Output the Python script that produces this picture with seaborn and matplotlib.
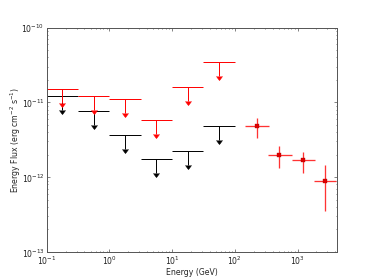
import numpy as np
import matplotlib
matplotlib.use("Agg")
import matplotlib.pyplot as plt
import seaborn as sns

# ------------------------------------------------------------------
# upper limits: half-decade energy bins (GeV)
# ------------------------------------------------------------------
ul_lo = [0.1, 0.316, 1.0, 3.16, 10.0, 31.6]
ul_hi = [0.316, 1.0, 3.16, 10.0, 31.6, 100.0]
ul_black = [1.23e-11, 7.7e-12, 3.7e-12, 1.74e-12, 2.23e-12, 4.82e-12]
ul_red = [1.52e-11, 1.2e-11, 1.11e-11, 5.74e-12, 1.62e-11, 3.51e-11]

# detected points (GeV, erg cm-2 s-1)
e_pt = [223, 515, 1216, 2774]
e_lo = [147, 340, 802, 1823]
e_hi = [352, 822, 1892, 4055]
f_pt = [4.76e-12, 1.97e-12, 1.67e-12, 9.0e-13]
f_lo = [3.29e-12, 1.32e-12, 1.15e-12, 3.57e-13]
f_hi = [6.24e-12, 2.63e-12, 2.16e-12, 1.46e-12]

arrow_frac = 0.35  # length of the upper-limit arrows, fraction of the value

sns.set_style("ticks")
plt.rcParams['font.family'] = ['DejaVu Sans']
plt.rcParams['font.size'] = 12

fig = plt.figure(figsize=(8, 6), dpi=46.75)
ax = fig.add_axes([0.125, 0.1, 0.775, 0.8])

ul_lo_a, ul_hi_a = np.array(ul_lo), np.array(ul_hi)
ul_x = np.sqrt(ul_lo_a * ul_hi_a)
ul_xerr = [ul_x - ul_lo_a, ul_hi_a - ul_x]

for vals, col in [(ul_black, 'k'), (ul_red, 'r')]:
    v = np.array(vals)
    cont = ax.errorbar(ul_x, v, xerr=ul_xerr, yerr=arrow_frac * v, uplims=True,
                       fmt='none', ecolor=col, elinewidth=1.5, capsize=0)
    # arrow heads
    for cap in cont[1]:
        cap.set_color(col)
        cap.set_markerfacecolor(col)
        cap.set_markeredgecolor(col)
        cap.set_markersize(9)

e = np.array(e_pt)
f = np.array(f_pt)
eb = ax.errorbar(e, f, xerr=[e - np.array(e_lo), np.array(e_hi) - e],
                 yerr=[f - np.array(f_lo), np.array(f_hi) - f],
                 fmt='none', ecolor='red', elinewidth=2, capsize=0)
for lc in eb[2]:
    lc.set_color('#ff3333')
sns.scatterplot(x=e_pt, y=f_pt, ax=ax, color='#e00000', marker='s', s=30,
                edgecolor='#a00000', linewidth=0.5, zorder=5)

ax.set_xscale('log')
ax.set_yscale('log')
ax.set_xlim(0.1, 4200)
ax.set_ylim(1e-13, 1e-10)
ax.set_xlabel('Energy (GeV)', labelpad=1)
ax.set_ylabel('Energy Flux (erg cm$^{-2}$ s$^{-1}$)', labelpad=-3)
ax.tick_params(which='both', direction='in', top=True, right=True,
               colors='#444444', labelcolor='#222222')
ax.tick_params(which='major', length=4, width=1)
ax.tick_params(which='minor', length=2, width=1)
for sp in ax.spines.values():
    sp.set_linewidth(1.5)
    sp.set_color('#555555')

fig.savefig('out.png', dpi=46.75)
